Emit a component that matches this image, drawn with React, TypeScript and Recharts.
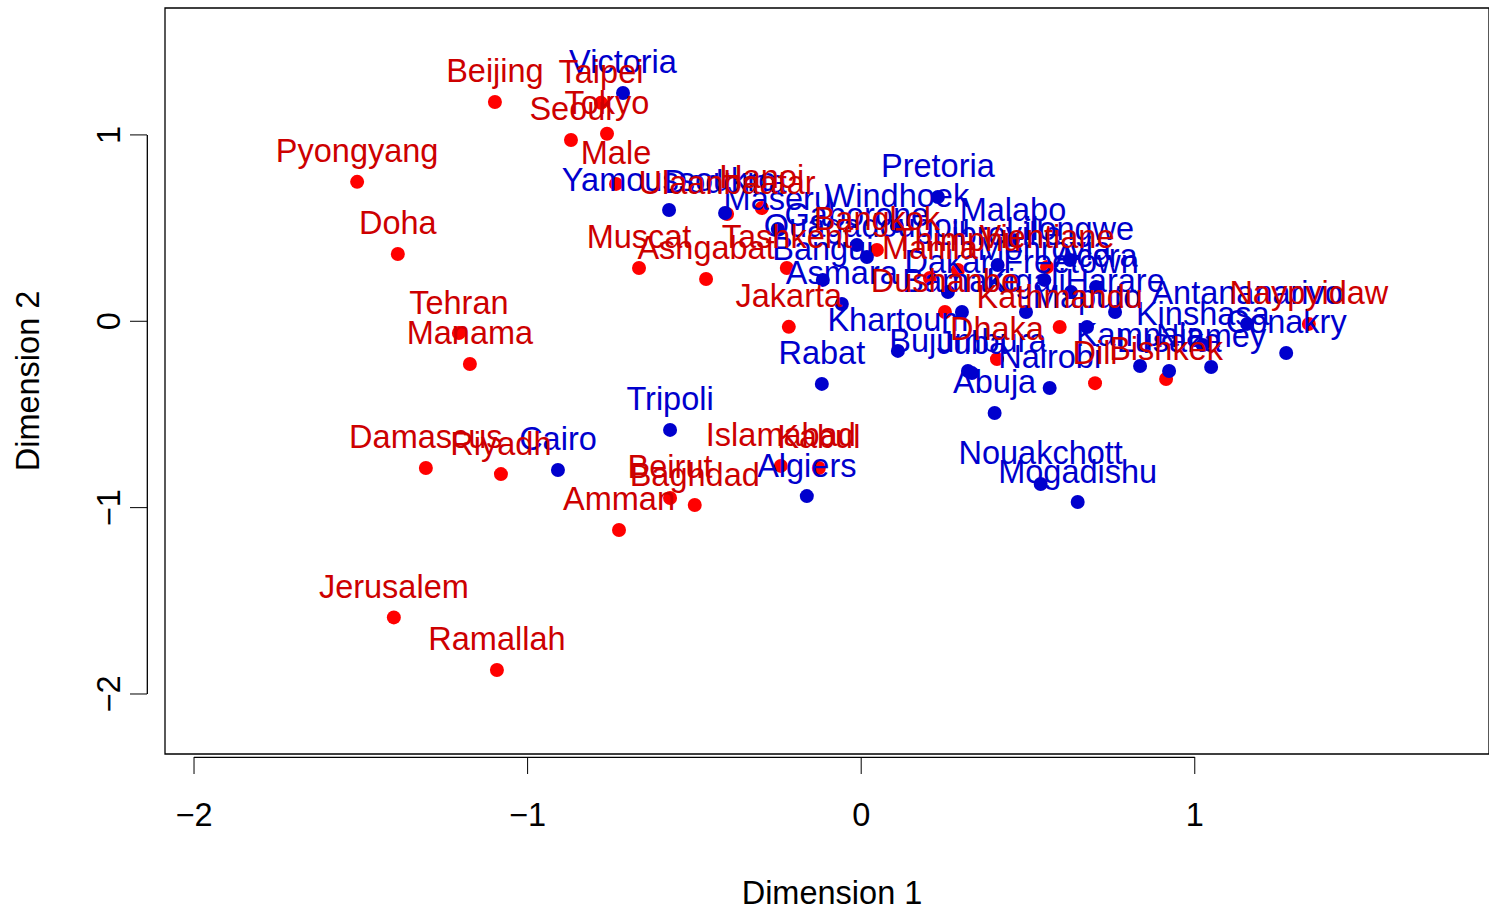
import { ScatterChart, Scatter, XAxis, YAxis, ReferenceLine, ReferenceArea, Label } from 'recharts';

// Asian / Middle-East capitals (red)
const redNames = [
  'Pyongyang', 'Doha', 'Beijing', 'Taipei', 'Tokyo', 'Seoul', 'Male', 'Ulaanbaatar', 'Hanoi',
  'Muscat', 'Ashgabat', 'Tashkent', 'Jakarta', 'Bangkok', 'Manila', 'Thimphu', 'Vientiane',
  'Dushanbe', 'Kathmandu', 'Dhaka', 'Dili', 'Bishkek', 'Naypyidaw', 'Tehran', 'Manama',
  'Damascus', 'Riyadh', 'Islamabad', 'Kabul', 'Beirut', 'Baghdad', 'Amman', 'Jerusalem', 'Ramallah',
];
const redX = [
  -1.511, -1.389, -1.098, -0.78, -0.762, -0.87, -0.735, -0.402, -0.298,
  -0.666, -0.465, -0.223, -0.217, 0.047, 0.206, 0.29, 0.557,
  0.251, 0.595, 0.407, 0.701, 0.914, 1.342, -1.206, -1.173,
  -1.305, -1.08, -0.241, -0.127, -0.573, -0.499, -0.726, -1.401, -1.092,
];
const redY = [
  0.748, 0.361, 1.177, 1.172, 1.006, 0.973, 0.737, 0.576, 0.608,
  0.286, 0.227, 0.286, -0.03, 0.383, 0.232, 0.275, 0.291,
  0.05, -0.031, -0.203, -0.332, -0.31, -0.014, -0.063, -0.229,
  -0.787, -0.82, -0.776, -0.787, -0.948, -0.986, -1.12, -1.589, -1.871,
];

// African capitals (blue)
const blueNames = [
  'Victoria', 'Yamoussoukro', 'Dodoma', 'Maseru', 'Pretoria', 'Windhoek', 'Gaborone', 'Ouagadougou',
  'Bangui', 'Asmara', 'Khartoum', 'Rabat', 'Bujumbura', 'Juba', 'Abuja', 'Nairobi', 'Nouakchott',
  'Mogadishu', 'Tripoli', 'Cairo', 'Algiers', 'Kampala', 'Niamey', 'Lusaka', 'Kinshasa',
  'Antananarivo', 'Conakry', 'Harare', 'Maputo', 'Kigali', 'Bamako', 'Dakar', 'Malabo', 'Lilongwe',
  'Accra', 'Freetown', 'Monrovia', 'Libreville',
];
const blueX = [
  -0.714, -0.576, -0.408, -0.25, 0.23, 0.107, -0.013, 0.017,
  -0.115, -0.058, 0.11, -0.118, 0.32, 0.332, 0.4, 0.565, 0.538,
  0.649, -0.573, -0.909, -0.163, 0.836, 1.049, 0.923, 1.024,
  1.157, 1.274, 0.761, 0.677, 0.494, 0.302, 0.26, 0.455, 0.626,
  0.704, 0.629, 0.549, 0.409,
];
const blueY = [
  1.225, 0.597, 0.581, 0.495, 0.667, 0.511, 0.409, 0.345,
  0.222, 0.093, -0.159, -0.336, -0.267, -0.278, -0.492, -0.358, -0.873,
  -0.97, -0.583, -0.798, -0.938, -0.24, -0.245, -0.267, -0.127,
  -0.014, -0.17, 0.05, -0.031, 0.05, 0.05, 0.157, 0.436, 0.329,
  0.184, 0.157, 0.222, 0.302,
];

const xTicks = [-2, -1, 0, 1];
const yTicks = [-2, -1, 0, 1];

const RED_DOT = '#FF0000';
const RED_TEXT = '#CD0000';
const BLUE = '#0000CD';
const FONT = '"Liberation Sans", Arial, Helvetica, sans-serif';
const FS = 32.5;

const redData = redNames.map((name, i) => ({ name, x: redX[i], y: redY[i] }));
const blueData = blueNames.map((name, i) => ({ name, x: blueX[i], y: blueY[i] }));

const fmt = (v: number) => (v < 0 ? `\u2212${Math.abs(v)}` : `${v}`);

const dot = (color: string) => (props: any) =>
  <circle cx={props.cx} cy={props.cy} r={7} fill={color} />;

// city name centred just above its point
const tag = (color: string) => (props: any) => (
  <text x={props.cx} y={props.cy - 19.5} textAnchor="middle" fill={color} fontSize={FS} fontFamily={FONT}>
    {props.payload.name}
  </text>
);

function XTick({ x, y, payload }: any) {
  return (
    <g>
      <line x1={x} x2={x} y1={y + 3} y2={y + 20} stroke="#000" strokeWidth={1} />
      <text x={x} y={y + 72} textAnchor="middle" fontSize={FS} fontFamily={FONT} fill="#000">
        {fmt(payload.value)}
      </text>
    </g>
  );
}

function YTick({ x, y, payload }: any) {
  return (
    <g>
      <line x1={x - 18} x2={x - 35} y1={y} y2={y} stroke="#000" strokeWidth={1} />
      <text
        x={x - 45}
        y={y}
        transform={`rotate(-90, ${x - 45}, ${y})`}
        textAnchor="middle"
        fontSize={FS}
        fontFamily={FONT}
        fill="#000"
      >
        {fmt(payload.value)}
      </text>
    </g>
  );
}

const X_MIN = -2.087;
const X_MAX = 1.882;
const Y_MIN = -2.322;
const Y_MAX = 1.681;

export default function App() {
  return (
    <div style={{ position: 'absolute', left: 0, top: 0, background: '#fff' }}>
      <ScatterChart width={1489} height={909} margin={{ top: 8, right: 0, bottom: 0, left: 0 }}>
        <XAxis
          type="number"
          dataKey="x"
          domain={[X_MIN, X_MAX]}
          ticks={xTicks}
          allowDataOverflow
          height={155}
          axisLine={false}
          tickLine={false}
          tickSize={0}
          tickMargin={0}
          tick={<XTick />}
          interval={0}
        >
          <Label
            content={({ viewBox }: any) => (
              <text
                x={viewBox.x + viewBox.width / 2 + 5}
                y={viewBox.y + 150}
                textAnchor="middle"
                fontSize={FS}
                fontFamily={FONT}
                fill="#000"
              >
                Dimension 1
              </text>
            )}
          />
        </XAxis>
        <YAxis
          type="number"
          dataKey="y"
          domain={[Y_MIN, Y_MAX]}
          ticks={yTicks}
          allowDataOverflow
          width={165}
          axisLine={false}
          tickLine={false}
          tickSize={0}
          tickMargin={0}
          tick={<YTick />}
          interval={0}
        >
          <Label
            content={({ viewBox }: any) => {
              const cx = 39;
              const cy = viewBox.y + viewBox.height / 2;
              return (
                <text
                  x={cx}
                  y={cy}
                  transform={`rotate(-90, ${cx}, ${cy})`}
                  textAnchor="middle"
                  fontSize={FS}
                  fontFamily={FONT}
                  fill="#000"
                >
                  Dimension 2
                </text>
              );
            }}
          />
        </YAxis>

        {/* plot frame and the offset axis lines */}
        <ReferenceArea
          x1={X_MIN}
          x2={X_MAX}
          y1={Y_MIN}
          y2={Y_MAX}
          fill="none"
          stroke="#000"
          strokeWidth={1.3}
          ifOverflow="visible"
        />
        <ReferenceLine
          segment={[{ x: -2, y: -2.34 }, { x: 1, y: -2.34 }]}
          stroke="#000"
          strokeWidth={1.3}
          ifOverflow="visible"
        />
        <ReferenceLine
          segment={[{ x: -2.14, y: -2 }, { x: -2.14, y: 1 }]}
          stroke="#000"
          strokeWidth={1.3}
          ifOverflow="visible"
        />

        <Scatter data={redData} shape={dot(RED_DOT)} isAnimationActive={false} />
        <Scatter data={blueData} shape={dot(BLUE)} isAnimationActive={false} />
        <Scatter data={blueData} shape={tag(BLUE)} isAnimationActive={false} />
        <Scatter data={redData} shape={tag(RED_TEXT)} isAnimationActive={false} />
      </ScatterChart>
    </div>
  );
}
